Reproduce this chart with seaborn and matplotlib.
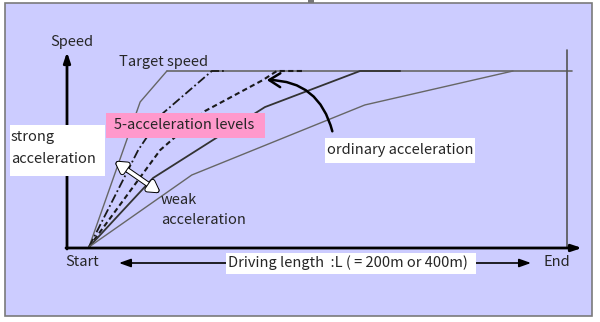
import numpy as np
import pandas as pd
import matplotlib
matplotlib.use("Agg")
import matplotlib.pyplot as plt
import seaborn as sns
from matplotlib.patches import Rectangle, FancyArrowPatch
import matplotlib.patheffects as pe

# ---------------- data (distance: 0=Start, 1=End ; speed: 1=target speed) -------------
levels = ["level 1 (strong)", "level 2", "level 3 (ordinary)", "level 4", "level 5 (weak)"]
dist_1 = [0.0, 0.107, 0.163]
speed_1 = [0.0, 0.824, 1.0]
dist_2 = [0.0, 0.103, 0.155, 0.257, 0.287]
speed_2 = [0.0, 0.551, 0.761, 1.0, 1.0]
dist_3 = [0.0, 0.149, 0.243, 0.364, 0.393, 0.446]
speed_3 = [0.0, 0.551, 0.773, 0.949, 1.0, 1.0]
dist_4 = [0.0, 0.134, 0.368, 0.567, 0.651]
speed_4 = [0.0, 0.392, 0.795, 1.0, 1.0]
dist_5 = [0.0, 0.215, 0.577, 0.887]
speed_5 = [0.0, 0.409, 0.807, 1.0]
target_dist = [0.163, 1.010]
target_speed = [1.0, 1.0]
end_dist = 1.0

dists = [dist_1, dist_2, dist_3, dist_4, dist_5]
speeds = [speed_1, speed_2, speed_3, speed_4, speed_5]
df = pd.concat([pd.DataFrame({"distance": d, "speed": s, "level": lv, "order": range(len(d))})
                for d, s, lv in zip(dists, speeds, levels)], ignore_index=True)

sns.set_style("white")
plt.rcParams["font.family"] = ["Noto Sans CJK JP", "DejaVu Sans"]

fig = plt.figure(figsize=(6.0, 3.22), dpi=100, facecolor="white")
ax = fig.add_axes([0, 0, 1, 1])
ax.set_xlim(-89 / 478, 511 / 478)
ax.set_ylim(-75 / 176, 247 / 176)
ax.axis("off")


def P(px, py):
    return ((px - 89) / 478, (247 - py) / 176)


def box(x0, y0, x1, y1, fc, z=4):
    (a, b) = P(x0, y1)
    (c, d) = P(x1, y0)
    ax.add_patch(Rectangle((a, b), c - a, d - b, facecolor=fc, edgecolor="none", zorder=z))


# background panel
(bx, by) = P(5, 316)
(bx2, by2) = P(592, 3)
ax.add_patch(Rectangle((bx, by), bx2 - bx, by2 - by, facecolor="#CCCCFF",
                       edgecolor="#7a7a7a", lw=1.2, zorder=0))
box(308, 0, 314, 3, "#777777", z=1)

# target speed line and end line
sns.lineplot(x=target_dist, y=target_speed, ax=ax, color="#666666", lw=1.2, zorder=2)
ax.plot([end_dist, end_dist], [P(0, 248)[1], P(0, 50)[1]], color="#555555", lw=1.2, zorder=2)

styles = {
    levels[0]: dict(color="#666666", lw=1.0, dashes=None),
    levels[1]: dict(color="#1a1a1a", lw=1.3, dashes=(5, 1.6, 1, 1.6)),
    levels[2]: dict(color="#1a1a1a", lw=1.5, dashes=(2.5, 1.6)),
    levels[3]: dict(color="#333333", lw=1.3, dashes=None),
    levels[4]: dict(color="#666666", lw=1.0, dashes=None),
}
for lv in levels:
    st = styles[lv]
    sub = df[df["level"] == lv]
    sns.lineplot(data=sub, x="distance", y="speed", ax=ax, sort=False, estimator=None,
                 color=st["color"], lw=st["lw"], zorder=3)
    line = ax.lines[-1]
    if st["dashes"] is not None:
        line.set_dashes(st["dashes"])

# axes arrows
ax.annotate("", xy=P(67, 52), xytext=P(67, 249),
            arrowprops=dict(arrowstyle="-|>,head_length=0.6,head_width=0.2", lw=2, color="black",
                            shrinkA=0, shrinkB=0), zorder=3)
ax.annotate("", xy=P(582, 248), xytext=P(66, 248),
            arrowprops=dict(arrowstyle="-|>,head_length=0.6,head_width=0.2", lw=2, color="black",
                            shrinkA=0, shrinkB=0), zorder=3)

fs = 10.5
# labels
ax.text(*P(72, 42), "Speed", ha="center", va="center", fontsize=fs, zorder=5)
ax.text(*P(164, 62), "Target speed", ha="center", va="center", fontsize=fs, zorder=5)

box(10, 125, 105, 176, "white")
ax.text(*P(11, 137), "strong", ha="left", va="center", fontsize=fs, zorder=5)
ax.text(*P(11, 159), "acceleration", ha="left", va="center", fontsize=fs, zorder=5)

box(106, 113, 265, 138, "#FF99CC")
ax.text(*P(114, 125), "5-acceleration levels", ha="left", va="center", fontsize=fs, zorder=5)

box(325, 138, 475, 163, "white")
ax.text(*P(327, 150), "ordinary acceleration", ha="left", va="center", fontsize=fs, zorder=5)

ax.text(*P(161, 200), "weak", ha="left", va="center", fontsize=fs, zorder=5)
ax.text(*P(161, 220), "acceleration", ha="left", va="center", fontsize=fs, zorder=5)

ax.text(*P(82, 262), "Start", ha="center", va="center", fontsize=fs, zorder=5)
ax.text(*P(557, 262), "End", ha="center", va="center", fontsize=fs, zorder=5)

# driving length double arrow
ax.annotate("", xy=P(531, 263), xytext=P(119, 263),
            arrowprops=dict(arrowstyle="<|-|>,head_length=0.7,head_width=0.25", lw=1.2, color="black",
                            shrinkA=0, shrinkB=0), zorder=3)
box(226, 253, 476, 274, "white")
ax.text(*P(228, 263), "Driving length  :L ( = 200m or 400m)", ha="left", va="center",
        fontsize=fs, zorder=5)

# curved arrow to ordinary acceleration
ax.add_patch(FancyArrowPatch(P(333, 134), P(264, 80), connectionstyle="arc3,rad=0.4",
                             arrowstyle="->,head_length=4,head_width=2.5", lw=1.8, color="black",
                             zorder=6, mutation_scale=2))

# white double arrow between strong and weak
ax.add_patch(FancyArrowPatch(P(113, 160), P(162, 194),
                             arrowstyle="<|-|>,head_length=2.4,head_width=1.4", mutation_scale=2.5,
                             lw=2.6, color="white", zorder=6,
                             path_effects=[pe.Stroke(linewidth=4.0, foreground="black"), pe.Normal()]))

fig.savefig("out.png", dpi=100, facecolor="white")
